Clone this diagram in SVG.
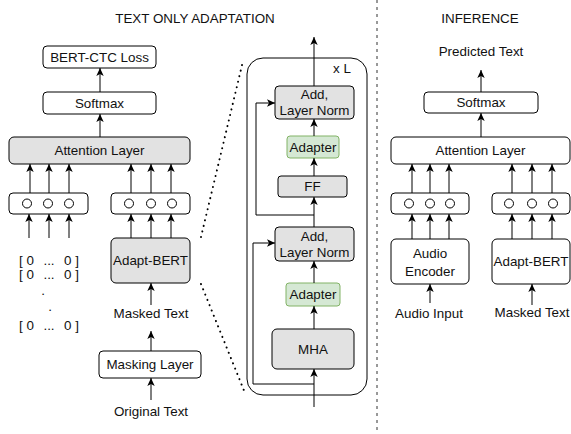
<svg xmlns="http://www.w3.org/2000/svg" width="571" height="434" viewBox="0 0 571 434">
  <style>
    text { font-family: "Liberation Sans", Arial, sans-serif; font-size: 13.4px; fill: #111; text-anchor: middle; }
    .box { fill: #ffffff; stroke: #000; stroke-width: 1; }
    .gray { fill: #e2e2e2; stroke: #000; stroke-width: 1; }
    .green { fill: #d5e8d4; stroke: #82b366; stroke-width: 1; }
    .circ { fill: #fff; stroke: #000; stroke-width: 1; }
    .edge { fill: none; stroke: #000; stroke-width: 1; marker-end: url(#ah); }
    .line { fill: none; stroke: #000; stroke-width: 1; }
    .dots { fill: none; stroke: #000; stroke-width: 2; stroke-linecap: round; stroke-dasharray: 0.1 5.6; }
    .sep { fill: none; stroke: #333; stroke-width: 1; stroke-dasharray: 3 4; }
  </style>
  <defs>
    <marker id="ah" viewBox="0 0 8 8" refX="8" refY="4" markerWidth="8" markerHeight="8" markerUnits="userSpaceOnUse" orient="auto">
      <path d="M0,0.3 L8,4 L0,7.7 L2,4 z" fill="#000"/>
    </marker>
  </defs>

  <!-- section titles and divider -->
  <text x="195" y="22.5">TEXT ONLY ADAPTATION</text>
  <text x="480" y="22.5">INFERENCE</text>
  <line class="sep" x1="377" y1="0" x2="377" y2="434"/>

  <!-- training branch -->
  <g id="bert-ctc-loss"><rect class="box" x="43" y="46" width="113" height="22" rx="4"/><text x="99.5" y="61.7">BERT-CTC Loss</text></g>
  <g id="softmax-train"><rect class="box" x="43" y="92" width="113" height="22" rx="4"/><text x="99.5" y="107.7">Softmax</text></g>
  <g id="attention-train"><rect class="gray" x="9" y="137" width="181" height="27" rx="5"/><text x="99.5" y="155.2">Attention Layer</text></g>
  <g id="zero-embed-vec">
    <rect class="box" x="9" y="193" width="79" height="21" rx="4"/>
    <circle class="circ" cx="27" cy="203.5" r="4.5"/><circle class="circ" cx="48" cy="203.5" r="4.5"/><circle class="circ" cx="69" cy="203.5" r="4.5"/>
  </g>
  <g id="text-embed-vec">
    <rect class="box" x="111" y="193" width="79" height="21" rx="4"/>
    <circle class="circ" cx="129" cy="203.5" r="4.5"/><circle class="circ" cx="151" cy="203.5" r="4.5"/><circle class="circ" cx="172" cy="203.5" r="4.5"/>
  </g>
  <g id="zero-inputs" style="fill:#222">
    <text x="19" y="264.7" style="text-anchor:start">[ 0</text><text x="49" y="264.7">...</text><text x="79" y="264.7" style="text-anchor:end">0 ]</text>
    <text x="19" y="278.7" style="text-anchor:start">[ 0</text><text x="49" y="278.7">...</text><text x="79" y="278.7" style="text-anchor:end">0 ]</text>
    <text x="43" y="295">.</text>
    <text x="50" y="311">.</text>
    <text x="19" y="329.7" style="text-anchor:start">[ 0</text><text x="49" y="329.7">...</text><text x="79" y="329.7" style="text-anchor:end">0 ]</text>
  </g>
  <g id="adapt-bert-train"><rect class="gray" x="111" y="238" width="79" height="45" rx="5"/><text x="150.5" y="265.2">Adapt-BERT</text></g>
  <g id="masked-text-train"><text x="151" y="317.7">Masked Text</text></g>
  <g id="masking-layer"><rect class="box" x="99" y="351" width="102" height="27" rx="4"/><text x="150" y="369.2">Masking Layer</text></g>
  <g id="original-text"><text x="151" y="415.7">Original Text</text></g>

  <!-- adapter transformer block -->
  <g id="layer-stack"><rect class="line" x="247" y="58" width="120" height="337" rx="16"/><text x="342" y="73">x L</text></g>
  <g id="add-norm-2"><rect class="gray" x="275" y="86" width="79" height="33" rx="4"/><text x="314.5" y="99.2">Add,</text><text x="314.5" y="115.2">Layer Norm</text></g>
  <g id="adapter-2"><rect class="green" x="287" y="136" width="52" height="22" rx="3"/><text x="313" y="151.7">Adapter</text></g>
  <g id="ff"><rect class="gray" x="278" y="176" width="69" height="21" rx="3"/><text x="312.5" y="191.2">FF</text></g>
  <g id="add-norm-1"><rect class="gray" x="275" y="227" width="79" height="34" rx="4"/><text x="314.5" y="240.7">Add,</text><text x="314.5" y="256.7">Layer Norm</text></g>
  <g id="adapter-1"><rect class="green" x="286" y="283" width="54" height="23" rx="3"/><text x="313" y="299.2">Adapter</text></g>
  <g id="mha"><rect class="gray" x="272" y="329" width="82" height="40" rx="5"/><text x="313" y="353.7">MHA</text></g>

  <!-- inference branch -->
  <g id="predicted-text"><text x="481" y="55.7">Predicted Text</text></g>
  <g id="softmax-infer"><rect class="box" x="424" y="92" width="114" height="21" rx="4"/><text x="481" y="107.2">Softmax</text></g>
  <g id="attention-infer"><rect class="box" x="391" y="137" width="179" height="27" rx="5"/><text x="480.5" y="155.2">Attention Layer</text></g>
  <g id="audio-embed-vec">
    <rect class="box" x="391" y="193" width="78" height="21" rx="4"/>
    <circle class="circ" cx="409" cy="203.5" r="4.5"/><circle class="circ" cx="430" cy="203.5" r="4.5"/><circle class="circ" cx="450" cy="203.5" r="4.5"/>
  </g>
  <g id="bert-embed-vec">
    <rect class="box" x="492" y="193" width="78" height="21" rx="4"/>
    <circle class="circ" cx="509" cy="203.5" r="4.5"/><circle class="circ" cx="532" cy="203.5" r="4.5"/><circle class="circ" cx="553" cy="203.5" r="4.5"/>
  </g>
  <g id="audio-encoder"><rect class="box" x="391" y="239" width="78" height="45" rx="5"/><text x="430" y="257.7">Audio</text><text x="430" y="275.7">Encoder</text></g>
  <g id="adapt-bert-infer"><rect class="box" x="492" y="239" width="78" height="45" rx="5"/><text x="531" y="266.2">Adapt-BERT</text></g>
  <g id="audio-input"><text x="429" y="317.7">Audio Input</text></g>
  <g id="masked-text-infer"><text x="532" y="316.7">Masked Text</text></g>

  <!-- connectors -->
  <g id="connectors">
    <line class="edge" x1="100" y1="92" x2="100" y2="68"/>
    <line class="edge" x1="100" y1="137" x2="100" y2="114"/>
    <line class="edge" x1="30" y1="193" x2="30" y2="164"/>
    <line class="edge" x1="49" y1="193" x2="49" y2="164"/>
    <line class="edge" x1="69" y1="193" x2="69" y2="164"/>
    <line class="edge" x1="131" y1="193" x2="131" y2="164"/>
    <line class="edge" x1="151" y1="193" x2="151" y2="164"/>
    <line class="edge" x1="171" y1="193" x2="171" y2="164"/>
    <line class="edge" x1="29" y1="238" x2="29" y2="214"/>
    <line class="edge" x1="49" y1="238" x2="49" y2="214"/>
    <line class="edge" x1="69" y1="238" x2="69" y2="214"/>
    <line class="edge" x1="131" y1="238" x2="131" y2="214"/>
    <line class="edge" x1="151" y1="238" x2="151" y2="214"/>
    <line class="edge" x1="171" y1="238" x2="171" y2="214"/>
    <line class="edge" x1="151" y1="305" x2="151" y2="283"/>
    <line class="edge" x1="151" y1="351" x2="151" y2="331"/>
    <line class="edge" x1="151" y1="400" x2="151" y2="378"/>

    <line class="dots" x1="201" y1="237" x2="243" y2="61"/>
    <line class="dots" x1="201" y1="284" x2="245" y2="393"/>

    <line class="edge" x1="314" y1="86" x2="314" y2="37"/>
    <line class="edge" x1="314" y1="136" x2="314" y2="119"/>
    <line class="edge" x1="314" y1="176" x2="314" y2="158"/>
    <line class="edge" x1="314" y1="227" x2="314" y2="197"/>
    <path class="edge" d="M314,215 H256 V103 H275"/>
    <line class="edge" x1="314" y1="283" x2="314" y2="261"/>
    <line class="edge" x1="314" y1="329" x2="314" y2="306"/>
    <line class="edge" x1="314" y1="407" x2="314" y2="369"/>
    <path class="edge" d="M314,384 H253 V243 H275"/>

    <line class="edge" x1="481" y1="92" x2="481" y2="70"/>
    <line class="edge" x1="481" y1="137" x2="481" y2="113"/>
    <line class="edge" x1="412" y1="193" x2="412" y2="164"/>
    <line class="edge" x1="430" y1="193" x2="430" y2="164"/>
    <line class="edge" x1="449" y1="193" x2="449" y2="164"/>
    <line class="edge" x1="512" y1="193" x2="512" y2="164"/>
    <line class="edge" x1="532" y1="193" x2="532" y2="164"/>
    <line class="edge" x1="552" y1="193" x2="552" y2="164"/>
    <line class="edge" x1="412" y1="239" x2="412" y2="214"/>
    <line class="edge" x1="430" y1="239" x2="430" y2="214"/>
    <line class="edge" x1="449" y1="239" x2="449" y2="214"/>
    <line class="edge" x1="512" y1="239" x2="512" y2="214"/>
    <line class="edge" x1="532" y1="239" x2="532" y2="214"/>
    <line class="edge" x1="552" y1="239" x2="552" y2="214"/>
    <line class="edge" x1="430" y1="303" x2="430" y2="284"/>
    <line class="edge" x1="532" y1="305" x2="532" y2="284"/>
  </g>
</svg>
